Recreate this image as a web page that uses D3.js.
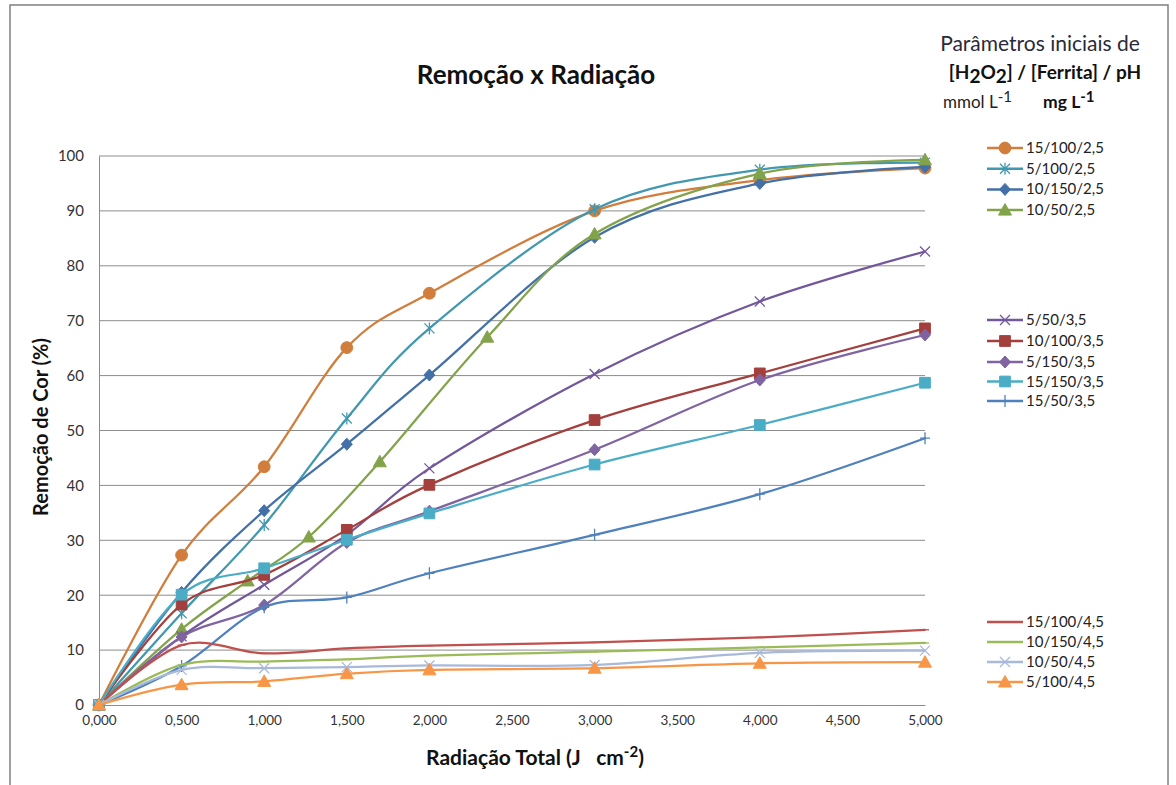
<!DOCTYPE html>
<html>
<head>
<meta charset="utf-8">
<script src="https://cdn.jsdelivr.net/npm/d3@7"></script>
<style>
  body { margin: 0; background: #fff; }
  svg { font-family: Lato, "Open Sans", sans-serif; }
</style>
</head>
<body>
<div id="chart"></div>
<script>
// x values (J cm-2)
const xStd = [0, 0.5, 1, 1.5, 2, 3, 4, 5];
const xGreen = [0, 0.5, 0.9, 1.27, 1.7, 2.35, 3, 4, 5];
const xTicks = [0, 0.5, 1, 1.5, 2, 2.5, 3, 3.5, 4, 4.5, 5];
const yTicks = [0, 10, 20, 30, 40, 50, 60, 70, 80, 90, 100];

const seriesNames = ["15/100/2,5", "5/100/2,5", "10/150/2,5", "10/50/2,5",
                     "5/50/3,5", "10/100/3,5", "5/150/3,5", "15/150/3,5", "15/50/3,5",
                     "15/100/4,5", "10/150/4,5", "10/50/4,5", "5/100/4,5"];
const seriesColors = ["#d17d3b", "#4198af", "#4470a8", "#83a34b",
                      "#72589a", "#a33f3c", "#8064a2", "#4bacc6", "#4f81bd",
                      "#c0504d", "#9bbb59", "#a9b9da", "#f79646"];
const seriesMarkers = ["circle", "asterisk", "diamond", "triangle",
                       "x", "square", "diamond", "square", "plus",
                       "dash", "dash", "x", "triangle"];

// Remoção de Cor (%)
const v15_100_25 = [0, 27.3, 43.4, 65.1, 75.0, 90.0, 95.6, 97.8];
const v5_100_25  = [0, 16.7, 32.8, 52.2, 68.6, 90.3, 97.5, 98.8];
const v10_150_25 = [0, 20.5, 35.4, 47.5, 60.1, 85.2, 95.0, 98.0];
const v10_50_25  = [0, 13.8, 22.6, 30.6, 44.3, 67.0, 85.8, 96.8, 99.3];
const v5_50_35   = [0, 12.5, 21.9, 31.0, 43.1, 60.3, 73.5, 82.6];
const v10_100_35 = [0, 18.3, 23.7, 31.9, 40.1, 51.9, 60.4, 68.6];
const v5_150_35  = [0, 12.4, 18.2, 29.6, 35.3, 46.5, 59.2, 67.4];
const v15_150_35 = [0, 20.1, 24.9, 30.1, 34.9, 43.8, 51.0, 58.7];
const v15_50_35  = [0, 7.1, 17.8, 19.6, 24.0, 31.0, 38.4, 48.6];
const v15_100_45 = [0, 10.9, 9.4, 10.3, 10.8, 11.4, 12.3, 13.7];
const v10_150_45 = [0, 7.3, 7.9, 8.3, 9.0, 9.7, 10.5, 11.3];
const v10_50_45  = [0, 6.4, 6.7, 6.9, 7.2, 7.3, 9.5, 9.9];
const v5_100_45  = [0, 3.7, 4.3, 5.7, 6.4, 6.7, 7.6, 7.8];

const seriesX = [xStd, xStd, xStd, xGreen, xStd, xStd, xStd, xStd, xStd, xStd, xStd, xStd, xStd];
const seriesY = [v15_100_25, v5_100_25, v10_150_25, v10_50_25, v5_50_35, v10_100_35,
                 v5_150_35, v15_150_35, v15_50_35, v15_100_45, v10_150_45, v10_50_45, v5_100_45];

const width = 1176, height = 785;
const plot = {left: 99, right: 925, top: 156, bottom: 705};

const svg = d3.select("#chart").append("svg")
    .attr("width", width).attr("height", height);

// outer frame
svg.append("rect")
   .attr("x", 10).attr("y", 5)
   .attr("width", 1158).attr("height", 800)
   .attr("fill", "#fff").attr("stroke", "#808080").attr("stroke-width", 1.5);

const x = d3.scaleLinear().domain([0, 5]).range([plot.left, plot.right]);
const y = d3.scaleLinear().domain([0, 100]).range([plot.bottom, plot.top]);

// gridlines
svg.append("g")
   .selectAll("line")
   .data(yTicks.filter(d => d > 0))
   .enter().append("line")
   .attr("x1", plot.left).attr("x2", plot.right)
   .attr("y1", d => y(d)).attr("y2", d => y(d))
   .attr("stroke", "#8c8c8c").attr("stroke-width", 1);

// y axis
const yAxis = svg.append("g")
   .attr("transform", `translate(${plot.left},0)`)
   .call(d3.axisLeft(y).tickValues(yTicks).tickSize(0).tickPadding(15));
yAxis.select(".domain").attr("stroke", "#8c8c8c");
yAxis.selectAll("text").attr("font-size", 15).attr("fill", "#333")
     .attr("font-family", "Lato, sans-serif");

// x axis
const xAxis = svg.append("g")
   .attr("transform", `translate(0,${plot.bottom})`)
   .call(d3.axisBottom(x).tickValues(xTicks).tickSize(0).tickPadding(10)
           .tickFormat(d => d3.format(".3f")(d).replace(".", ",")));
xAxis.select(".domain").attr("stroke", "#8c8c8c");
xAxis.selectAll("text").attr("font-size", 13.5).attr("fill", "#333")
     .attr("font-family", "Lato, sans-serif");

// marker shapes
function markerPath(type) {
    switch (type) {
        case "circle":   return d3.symbol(d3.symbolCircle, 110)();
        case "square":   return d3.symbol(d3.symbolSquare, 115)();
        case "triangle": return "M0,-6.5L6.5,5L-6.5,5Z";
        case "diamond":  return "M0,-6L5.5,0L0,6L-5.5,0Z";
        case "x":        return "M-5,-5L5,5M-5,5L5,-5";
        case "asterisk": return "M-5,-5L5,5M-5,5L5,-5M0,-6L0,6";
        case "plus":     return "M-5,0L5,0M0,-6L0,6";
        case "dash":     return "M-4,0L4,0";
    }
}
const filled = {circle: true, square: true, triangle: true, diamond: true};

function drawMarker(g, type, color, cx, cy) {
    g.append("path")
     .attr("d", markerPath(type))
     .attr("transform", `translate(${cx},${cy})`)
     .attr("fill", filled[type] ? color : "none")
     .attr("stroke", color)
     .attr("stroke-width", filled[type] ? 1 : 1.3);
}

const line = d3.line()
    .x(d => x(d[0]))
    .y(d => y(d[1]))
    .curve(d3.curveCardinal.tension(0));

const seriesG = svg.append("g");
seriesNames.forEach((name, i) => {
    const pts = seriesX[i].map((xv, j) => [xv, seriesY[i][j]]);
    const g = seriesG.append("g");
    g.append("path")
     .datum(pts)
     .attr("d", line)
     .attr("fill", "none")
     .attr("stroke", seriesColors[i])
     .attr("stroke-width", 2.25)
     .style("stroke-linecap", "round")
     .style("stroke-linejoin", "round");
    pts.forEach(p => drawMarker(g, seriesMarkers[i], seriesColors[i], x(p[0]), y(p[1])));
});

// title
svg.append("text")
   .attr("x", 536).attr("y", 84)
   .attr("text-anchor", "middle")
   .attr("font-size", 26).attr("font-weight", "bold").attr("fill", "#111")
   .text("Remoção x Radiação");

// axis titles
svg.append("text")
   .attr("transform", "translate(48,427) rotate(-90)")
   .attr("text-anchor", "middle")
   .attr("font-size", 20).attr("font-weight", "bold").attr("fill", "#111")
   .text("Remoção de Cor (%)");

const xt = svg.append("text")
   .attr("x", 535).attr("y", 765)
   .attr("text-anchor", "middle")
   .attr("font-size", 21).attr("font-weight", "bold").attr("fill", "#111");
xt.append("tspan").text("Radiação Total (J\u00a0\u00a0\u00a0cm");
xt.append("tspan").attr("dy", -8).attr("font-size", 15).text("-2");
xt.append("tspan").attr("dy", 8).text(")");

// legend header
svg.append("text")
   .attr("x", 1040).attr("y", 51)
   .attr("text-anchor", "middle")
   .attr("font-size", 21).attr("fill", "#2a2a3a")
   .text("Parâmetros iniciais de");

const h2 = svg.append("text")
   .attr("x", 1045).attr("y", 79)
   .attr("text-anchor", "middle")
   .attr("font-size", 19).attr("font-weight", "bold").attr("fill", "#111");
h2.append("tspan").text("[H");
h2.append("tspan").attr("dy", 4).text("2");
h2.append("tspan").attr("dy", -4).text("O");
h2.append("tspan").attr("dy", 4).text("2");
h2.append("tspan").attr("dy", -4).text("] / [Ferrita] / pH");

const u1 = svg.append("text")
   .attr("x", 943).attr("y", 108)
   .attr("font-size", 17).attr("fill", "#222");
u1.append("tspan").text("mmol L");
u1.append("tspan").attr("dy", -6).attr("font-size", 15).text("-1");

const u2 = svg.append("text")
   .attr("x", 1043).attr("y", 108)
   .attr("font-size", 17.5).attr("font-weight", "bold").attr("fill", "#111");
u2.append("tspan").text("mg L");
u2.append("tspan").attr("dy", -6).attr("font-size", 15).text("-1");

// legend entries, three groups
const legendTops = [148, 148 + 20.7, 148 + 41.4, 148 + 62.1,
                    320, 341, 362, 381.5, 401,
                    622, 642, 662, 682];
const legend = svg.append("g");
seriesNames.forEach((name, i) => {
    const ly = legendTops[i];
    legend.append("line")
          .attr("x1", 987).attr("x2", 1023)
          .attr("y1", ly).attr("y2", ly)
          .attr("stroke", seriesColors[i]).attr("stroke-width", 2.5);
    if (seriesMarkers[i] !== "dash") {
        drawMarker(legend, seriesMarkers[i], seriesColors[i], 1005, ly);
    }
    legend.append("text")
          .attr("x", 1026).attr("y", ly + 5)
          .attr("font-size", 15).attr("fill", "#222")
          .text(name);
});
</script>
</body>
</html>
